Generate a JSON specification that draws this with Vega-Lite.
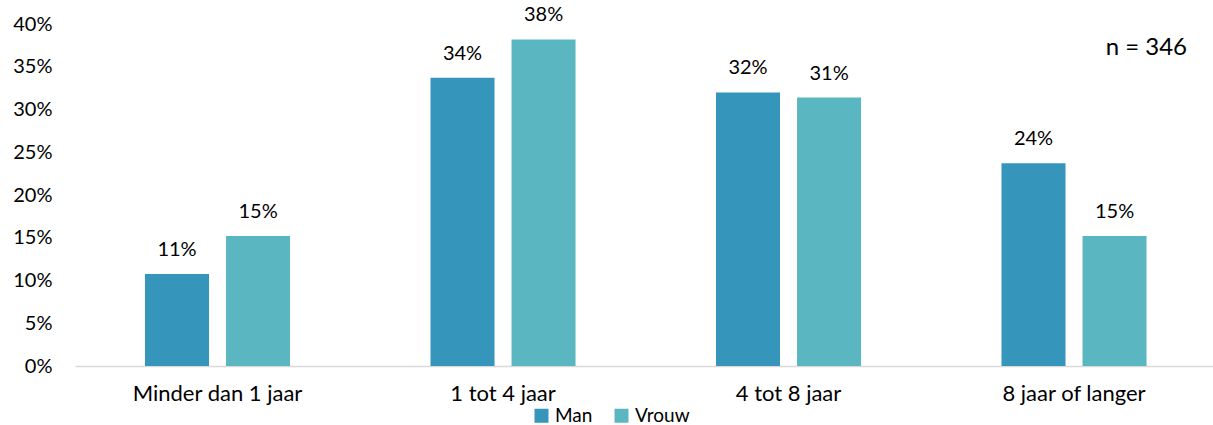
{
  "$schema": "https://vega.github.io/schema/vega-lite/v6.json",
  "width": 1138,
  "height": 342,
  "autosize": {"type": "none"},
  "padding": {"left": 75, "top": 24, "right": 0, "bottom": 59},
  "background": "white",
  "config": {"view": {"stroke": null}, "font": "Lato"},
  "title": {"text": "n = 346", "anchor": "end", "orient": "top", "fontSize": 24, "fontWeight": "normal", "color": "#000000", "font": "Lato", "offset": 0, "baseline": "alphabetic", "dx": -26, "dy": 74},
  "data": {"values": [
    {"cat": "Minder dan 1 jaar", "gender": "Man", "value": 0.1076},
    {"cat": "Minder dan 1 jaar", "gender": "Vrouw", "value": 0.152},
    {"cat": "1 tot 4 jaar", "gender": "Man", "value": 0.337},
    {"cat": "1 tot 4 jaar", "gender": "Vrouw", "value": 0.382},
    {"cat": "4 tot 8 jaar", "gender": "Man", "value": 0.32},
    {"cat": "4 tot 8 jaar", "gender": "Vrouw", "value": 0.314},
    {"cat": "8 jaar of langer", "gender": "Man", "value": 0.237},
    {"cat": "8 jaar of langer", "gender": "Vrouw", "value": 0.152}
  ]},
  "encoding": {
    "x": {"field": "cat", "type": "nominal", "sort": ["Minder dan 1 jaar", "1 tot 4 jaar", "4 tot 8 jaar", "8 jaar of langer"],
      "scale": {"paddingInner": 0.492, "paddingOuter": 0.239, "align": 0.513},
      "axis": {"title": null, "labelAngle": 0, "ticks": false, "domainColor": "#D9D9D9", "domainWidth": 1.5, "labelFontSize": 22, "labelColor": "#000000", "labelPadding": 17, "labelFont": "Lato"}},
    "xOffset": {"field": "gender", "type": "nominal", "sort": ["Man", "Vrouw"], "scale": {"paddingInner": 0.21, "paddingOuter": 0}},
    "y": {"field": "value", "type": "quantitative", "scale": {"domain": [0, 0.4]},
      "axis": {"title": null, "format": ".0%", "values": [0, 0.05, 0.1, 0.15, 0.2, 0.25, 0.3, 0.35, 0.4], "grid": false, "ticks": false, "domain": false, "labelFontSize": 20, "labelColor": "#000000", "labelPadding": 23, "labelFont": "Lato"}}
  },
  "layer": [
    {"mark": {"type": "bar"},
     "encoding": {"color": {"field": "gender", "type": "nominal", "sort": ["Man", "Vrouw"],
       "scale": {"domain": ["Man", "Vrouw"], "range": ["#3595BB", "#5AB7C1"]},
       "legend": {"title": null, "orient": "none", "direction": "horizontal", "legendX": 457, "legendY": 382, "symbolType": "square", "symbolSize": 196, "symbolStrokeWidth": 0, "labelFontSize": 19, "labelColor": "#000000", "labelOffset": 4, "columnPadding": 19, "labelFont": "Lato"}}}},
    {"mark": {"type": "text", "baseline": "alphabetic", "dy": -18, "fontSize": 20, "color": "#000000", "font": "Lato"},
     "encoding": {"text": {"field": "value", "type": "quantitative", "format": ".0%"}}}
  ]
}
